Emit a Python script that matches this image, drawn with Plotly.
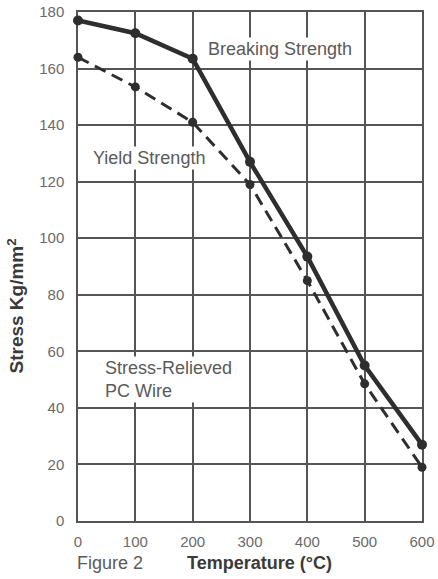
import plotly.graph_objects as go

temperature = [0, 100, 200, 300, 400, 500, 600]
breaking_strength = [177, 172.5, 163.5, 127, 93.5, 55, 27]
yield_strength = [164, 153.5, 141, 119, 85, 48.5, 19]
x_ticks = [0, 100, 200, 300, 400, 500, 600]
y_ticks = [0, 20, 40, 60, 80, 100, 120, 140, 160, 180]

FONT = "Liberation Sans, Arial, sans-serif"
LINE = "#2e2e2e"
GRID = "#555555"
TEXT = "#6a6a6a"

fig = go.Figure()
fig.add_trace(go.Scatter(
    x=temperature, y=yield_strength, mode="lines+markers",
    line=dict(color=LINE, width=3, dash="12px,7px"),
    marker=dict(color=LINE, size=9), showlegend=False, cliponaxis=False,
    hoverinfo="skip"))
fig.add_trace(go.Scatter(
    x=temperature, y=breaking_strength, mode="lines+markers",
    line=dict(color=LINE, width=4.5),
    marker=dict(color=LINE, size=10), showlegend=False, cliponaxis=False,
    hoverinfo="skip"))

axis_common = dict(showgrid=True, gridcolor=GRID, gridwidth=1.5, zeroline=False,
                   showline=True, linecolor=GRID, linewidth=1.5, mirror=True,
                   ticks="", automargin=False, layer="below traces",
                   tickfont=dict(family=FONT, size=15, color=TEXT))
fig.update_xaxes(range=[0, 600], tickmode="array", tickvals=x_ticks,
                 ticklabelstandoff=6, **axis_common)
fig.update_yaxes(range=[0, 180], tickmode="array", tickvals=y_ticks,
                 ticklabelstandoff=9, **axis_common)

anno_font = dict(family=FONT, size=18, color="#5a5a5a")
fig.add_annotation(x=352, y=167, text="Breaking Strength", showarrow=False,
                   xanchor="center", yanchor="middle", font=anno_font,
                   bgcolor="white")
fig.add_annotation(x=124, y=128.4, text="Yield Strength", showarrow=False,
                   xanchor="center", yanchor="middle", font=anno_font,
                   bgcolor="white")
fig.add_annotation(x=44, y=50, text="Stress-Relieved<br>PC Wire", showarrow=False,
                   xanchor="left", yanchor="middle", align="left", font=anno_font,
                   bgcolor="white")
fig.add_annotation(x=0, y=0, xref="paper", yref="paper", text="Figure 2",
                   showarrow=False, xanchor="left", yanchor="middle",
                   xshift=-3, yshift=-42, font=anno_font)
fig.add_annotation(x=0, y=0, xref="paper", yref="paper", text="<b>Temperature (°C)</b>",
                   showarrow=False, xanchor="left", yanchor="middle",
                   xshift=107, yshift=-42,
                   font=dict(family=FONT, size=18, color="#3a3a3a"))
fig.add_annotation(x=0, y=0.5, xref="paper", yref="paper",
                   text="<b>Stress Kg/mm<sup>2</sup></b>", textangle=-90,
                   showarrow=False, xanchor="center", yanchor="middle",
                   xshift=-63, yshift=-40,
                   font=dict(family=FONT, size=19, color="#3a3a3a"))

fig.update_layout(width=438, height=579, margin=dict(l=78, r=16, t=12, b=58),
                  plot_bgcolor="white", paper_bgcolor="white", hovermode=False)
fig.write_html("out.html", config={"displayModeBar": False},
               post_script="document.body.style.margin='0';")
